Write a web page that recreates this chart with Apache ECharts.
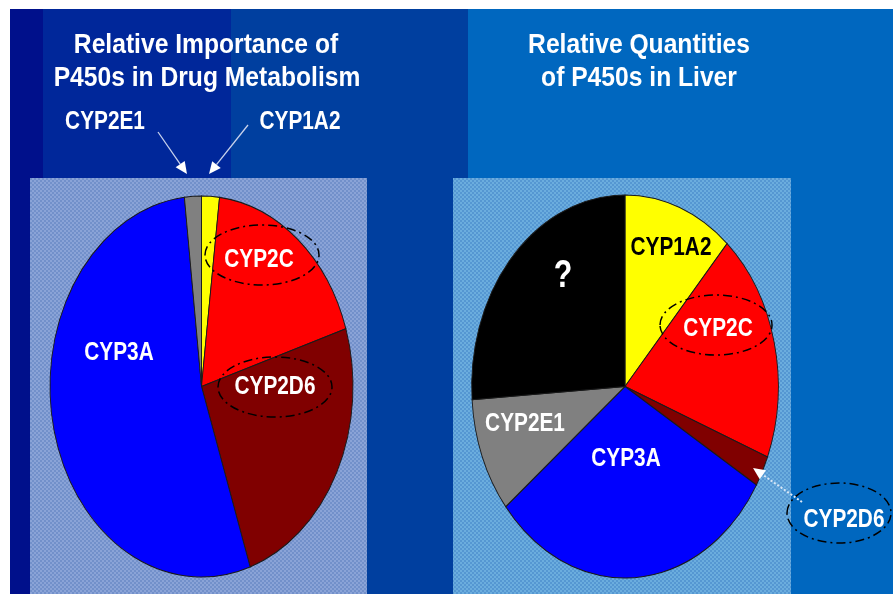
<!DOCTYPE html>
<html><head><meta charset="utf-8">
<script src="https://cdn.jsdelivr.net/npm/echarts@6/dist/echarts.min.js"></script>
<style>html,body{margin:0;padding:0;background:#fff}#c{width:893px;height:594px}</style>
</head><body><div id="c"></div>
<script>
// Left pie: relative importance of P450s in drug metabolism (%), clockwise from 12 o'clock
const drugNames  = ['CYP1A2', 'CYP2C', 'CYP2D6', 'CYP3A', 'CYP2E1'];
const drugValues = [1.9, 18.2, 24.7, 53.4, 1.8];
const drugColors = ['#ffff00', '#ff0000', '#800000', '#0000ff', '#808080'];

// Right pie: relative quantities of P450s in liver (%), clockwise from 12 o'clock
const liverNames  = ['CYP1A2', 'CYP2C', 'CYP2D6', 'CYP3A', 'CYP2E1', '?'];
const liverValues = [11.6, 19.4, 2.6, 30.6, 9.7, 26.1];
const liverColors = ['#ffff00', '#ff0000', '#800000', '#0000ff', '#808080', '#000000'];

const leftTitle  = ['Relative Importance of', 'P450s in Drug Metabolism'];
const rightTitle = ['Relative Quantities', 'of P450s in Liver'];

const FONT = '"Liberation Sans", Arial, sans-serif';

function checker(c1, c2) {
  const cv = document.createElement('canvas');
  cv.width = cv.height = 4;
  const g = cv.getContext('2d');
  g.fillStyle = c1; g.fillRect(0, 0, 4, 4);
  g.fillStyle = c2; g.fillRect(0, 0, 2, 2); g.fillRect(2, 2, 2, 2);
  return { image: cv, repeat: 'repeat' };
}

function pieSeries(names, values, colors, geo) {
  const total = values.reduce((a, b) => a + b, 0);
  let acc = 0;
  const data = values.map((v, i) => {
    const d = { name: names[i], value: [v, acc, total] };
    acc += v;
    return d;
  });
  return {
    type: 'custom', coordinateSystem: 'none', silent: true, z: 5, data,
    renderItem(params, api) {
      const v = api.value(0), s = api.value(1), t = api.value(2);
      const a0 = -Math.PI / 2 + s / t * 2 * Math.PI;
      const a1 = a0 + v / t * 2 * Math.PI;
      const R = 100;
      return {
        type: 'group', x: geo.cx, y: geo.cy, scaleX: geo.rx / R, scaleY: geo.ry / R,
        children: [{
          type: 'sector',
          shape: { cx: 0, cy: 0, r0: 0, r: R, startAngle: a0, endAngle: a1, clockwise: true },
          style: { fill: colors[params.dataIndex], stroke: '#1a1a1a', lineWidth: 1, strokeNoScale: true }
        }]
      };
    }
  };
}

function txt(x, y, text, size, color, sx) {
  return {
    type: 'text', x, y, scaleX: sx, z: 100, silent: true,
    style: { text, fill: color, font: 'bold ' + size + 'px ' + FONT, align: 'center', verticalAlign: 'middle' }
  };
}
function rect(x, y, w, h, fill, z) {
  return { type: 'rect', shape: { x, y, width: w, height: h }, style: { fill }, z: z || 0, silent: true };
}
function ring(cx, cy, rx, ry) {
  return { type: 'ellipse', z: 90, silent: true, shape: { cx, cy, rx, ry },
    style: { fill: null, stroke: '#000', lineWidth: 1.5, lineDash: [9, 4, 2, 4] } };
}
function arrow(x1, y1, x2, y2, color, dash) {
  const dx = x2 - x1, dy = y2 - y1, L = Math.hypot(dx, dy);
  const ux = dx / L, uy = dy / L, hl = 12, hw = 5.5;
  const bx = x2 - ux * hl, by = y2 - uy * hl;
  return [
    { type: 'line', z: 95, silent: true, shape: { x1, y1, x2: bx, y2: by },
      style: { stroke: color, lineWidth: dash ? 2 : 1.3, lineDash: dash ? [2, 2] : null } },
    { type: 'polygon', z: 96, silent: true,
      shape: { points: [[x2, y2], [bx - uy * hw, by + ux * hw], [bx + uy * hw, by - ux * hw]] },
      style: { fill: '#ffffff' } }
  ];
}

const chart = echarts.init(document.getElementById('c'), null, { renderer: 'canvas' });

const graphics = [
  rect(0, 0, 893, 594, '#ffffff', -10),
  rect(10, 9, 883, 585, '#0067bf', -9),
  rect(10, 9, 33, 585, '#00108b', -8),
  rect(43, 9, 188, 585, '#00279a', -8),
  rect(231, 9, 237, 585, '#003f9f', -8),
  rect(30, 178, 337, 416, checker('#8aa3d7', '#7290ca'), -5),
  rect(453, 178, 338, 416, checker('#6badde', '#5597d2'), -5),
  txt(206, 45, leftTitle[0], 28, '#ffffff', 0.88),
  txt(207, 78, leftTitle[1], 28, '#ffffff', 0.88),
  txt(639, 45, rightTitle[0], 28, '#ffffff', 0.88),
  txt(639, 78, rightTitle[1], 28, '#ffffff', 0.88),
  // left labels
  txt(105, 122, 'CYP2E1', 26, '#ffffff', 0.8),
  txt(300, 122, 'CYP1A2', 26, '#ffffff', 0.8),
  txt(259, 260, 'CYP2C', 26, '#ffffff', 0.8),
  txt(275, 387, 'CYP2D6', 26, '#ffffff', 0.8),
  txt(119, 353, 'CYP3A', 26, '#ffffff', 0.8),
  ring(262, 255, 57, 30),
  ring(275, 387, 57, 30),
  ...arrow(158, 132, 187, 174, '#c8d2ec', false),
  ...arrow(248, 125, 209, 174, '#c8d2ec', false),
  // right labels
  txt(671, 248, 'CYP1A2', 26, '#000000', 0.8),
  txt(563, 277, '?', 38, '#ffffff', 0.8),
  txt(718, 329, 'CYP2C', 26, '#ffffff', 0.8),
  txt(525, 424, 'CYP2E1', 26, '#ffffff', 0.8),
  txt(626, 459, 'CYP3A', 26, '#ffffff', 0.8),
  txt(844, 520, 'CYP2D6', 26, '#ffffff', 0.8),
  ring(716, 325, 56, 30),
  ring(839, 513, 52, 30),
  ...arrow(802, 502, 753, 468, '#d8e6f6', true)
];

chart.setOption({
  animation: false,
  graphic: { elements: graphics },
  series: [
    pieSeries(drugNames, drugValues, drugColors, { cx: 201.5, cy: 386.5, rx: 151.5, ry: 190.5 }),
    pieSeries(liverNames, liverValues, liverColors, { cx: 625, cy: 386.5, rx: 153.3, ry: 191.5 })
  ]
});
</script>
</body></html>
